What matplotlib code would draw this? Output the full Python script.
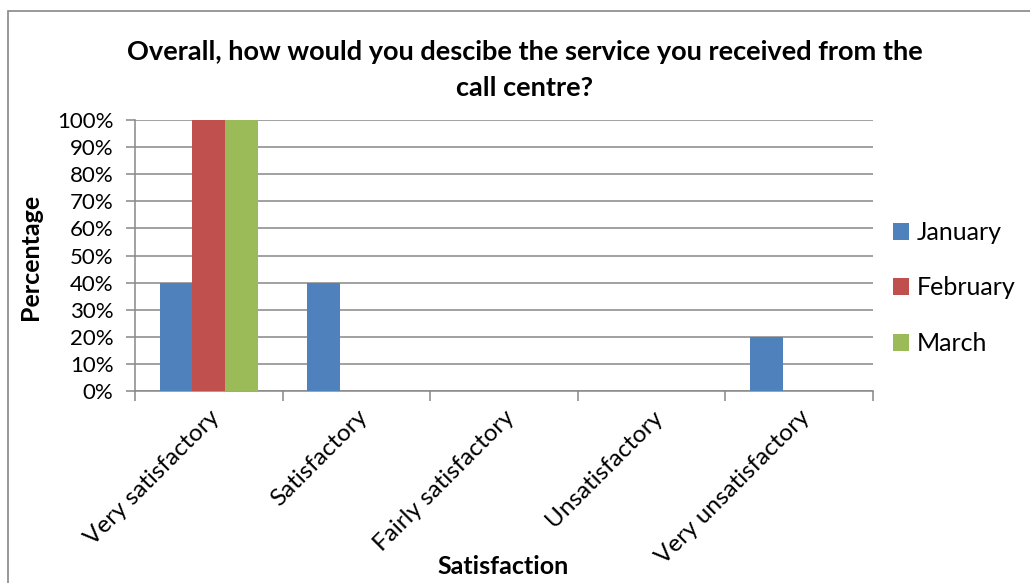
import matplotlib
matplotlib.use("Agg")
import matplotlib.pyplot as plt
from matplotlib.patches import Rectangle
import numpy as np

plt.rcParams['font.family'] = ['Lato', 'DejaVu Sans']

categories = ["Very satisfactory", "Satisfactory", "Fairly satisfactory",
              "Unsatisfactory", "Very unsatisfactory"]
series_names = ["January", "February", "March"]
january = [40, 40, 0, 0, 20]
february = [100, 0, 0, 0, 0]
march = [100, 0, 0, 0, 0]
colors = ["#4F81BD", "#C0504D", "#9BBB59"]
yticks = [0, 10, 20, 30, 40, 50, 60, 70, 80, 90, 100]

W, H = 1030, 583
fig = plt.figure(figsize=(W / 100, H / 100), dpi=100)
fig.patch.set_facecolor("white")

# outer chart border (right/bottom run past the image edge)
fig.patches.append(Rectangle((8 / W, -0.1), 1.2, 1 - 11 / H + 0.1,
                             transform=fig.transFigure, fill=False,
                             edgecolor="#888888", linewidth=1.2))

ax = fig.add_axes([135 / W, 1 - 391 / H, (873 - 135) / W, (391 - 120) / H])

x = np.arange(len(categories))
bw = 0.2222
data = [january, february, march]
for i, (vals, c, name) in enumerate(zip(data, colors, series_names)):
    ax.bar(x + (i - 1) * bw, vals, width=bw, color=c, label=name, zorder=3)

ax.set_xlim(-0.5, len(categories) - 0.5)
ax.set_ylim(0, 100)
ax.set_yticks(yticks)
ax.set_yticklabels([f"{v}%" for v in yticks], fontsize=16)
ax.yaxis.grid(True, color="#888888", linewidth=1.1, zorder=0)
ax.set_axisbelow(True)

ax.set_xticks(np.arange(-0.5, len(categories) + 0.5, 1.0), minor=False)
ax.set_xticklabels([])
ax.set_xticks(x, minor=True)
ax.set_xticklabels(categories, minor=True, rotation=45, ha="right",
                   rotation_mode="anchor", fontsize=17.5)
ax.tick_params(axis="x", which="minor", length=0, pad=11)
ax.tick_params(axis="x", which="major", length=7, width=1.1, color="#888888")
ax.tick_params(axis="y", length=6.5, width=1.1, color="#888888", pad=9)

for s in ["top", "right"]:
    ax.spines[s].set_visible(False)
for s in ["left", "bottom"]:
    ax.spines[s].set_color("#888888")
    ax.spines[s].set_linewidth(1.1)

fig.text(525 / W, 1 - 52 / H, "Overall, how would you descibe the service you received from the",
         ha="center", va="center", fontsize=19.5, fontweight="bold")
fig.text(525 / W, 1 - 88 / H, "call centre?",
         ha="center", va="center", fontsize=19.5, fontweight="bold")
fig.text(31 / W, 1 - 257 / H, "Percentage", rotation=90, ha="center", va="center",
         fontsize=18, fontweight="bold")
fig.text(503 / W, 1 - 567 / H, "Satisfaction", ha="center", va="center",
         fontsize=18, fontweight="bold")

leg = fig.legend(loc="center left", bbox_to_anchor=(893 / W, 1 - 288 / H),
                 frameon=False, fontsize=18, handlelength=0.65, handleheight=0.65,
                 handletextpad=0.3, labelspacing=1.3, borderpad=0, borderaxespad=0)

fig.savefig("out.png", dpi=100, facecolor="white")
